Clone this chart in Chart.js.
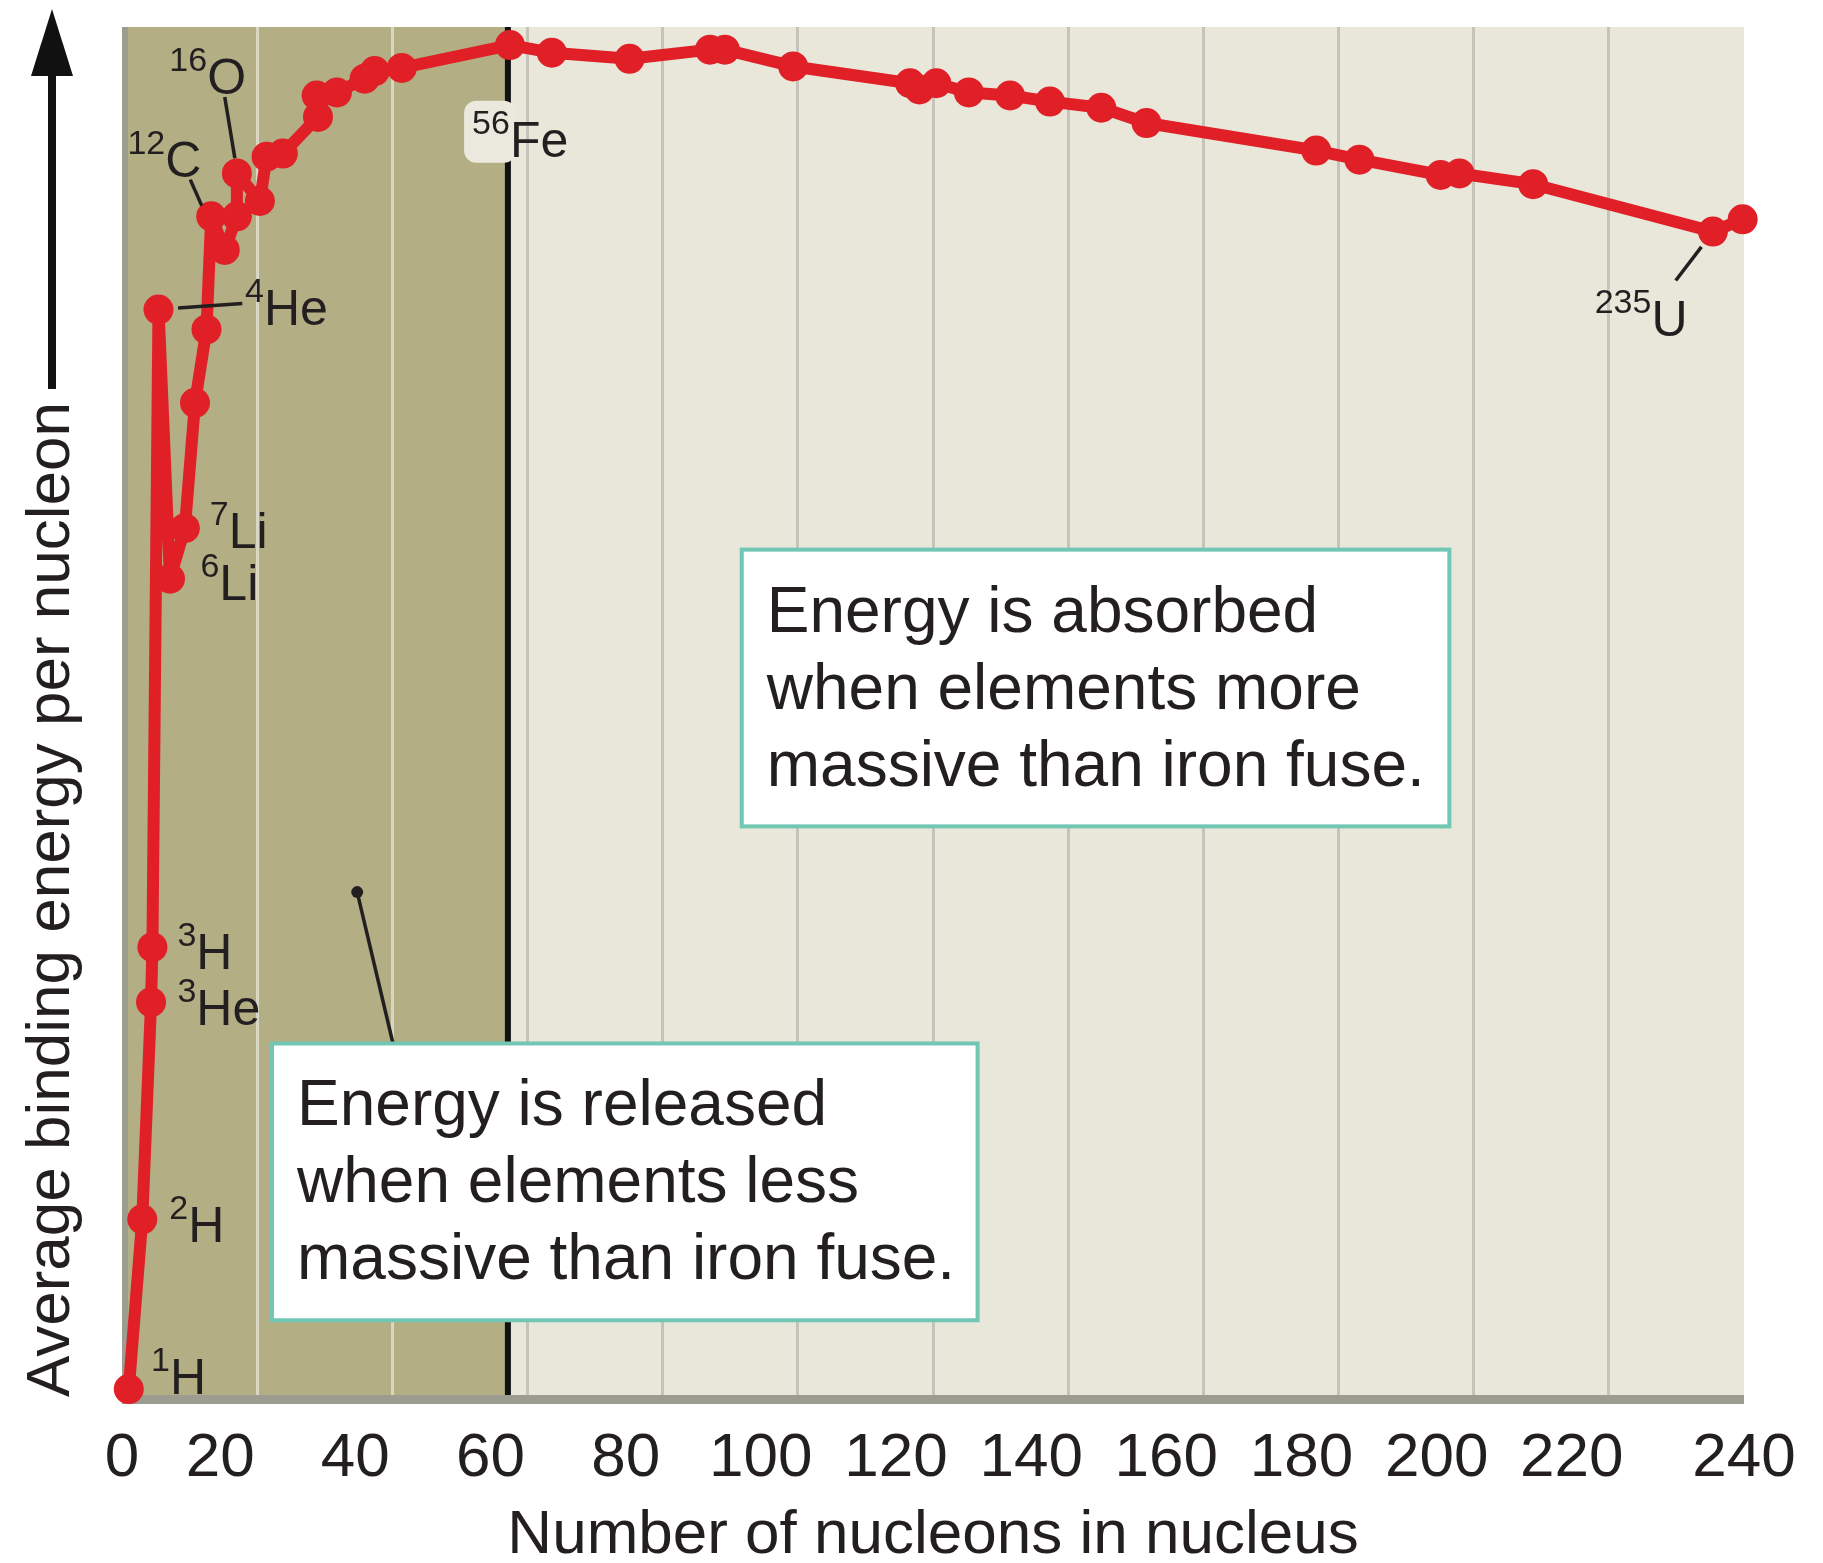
<!DOCTYPE html>
<html>
<head>
<meta charset="utf-8">
<title>Average binding energy per nucleon</title>
<script src="https://cdn.jsdelivr.net/npm/chart.js@4.4.1/dist/chart.umd.min.js"></script>
<style>
  html, body { margin: 0; padding: 0; background: #ffffff; }
  #wrap { width: 1823px; height: 1563px; position: relative; }
</style>
</head>
<body>
<div id="wrap"><canvas id="curve"></canvas></div>
<script>
// Values, in the order the curve joins them
// x = number of nucleons, y = average binding energy per nucleon (MeV)
const nucleons = [
    1.0, 3.0, 4.3, 4.5, 5.4, 7.1, 9.3, 10.8, 12.5, 13.2,
    15.2, 17.0, 17.0, 20.4, 21.4, 23.8, 29.0, 28.8, 31.8, 35.9,
    37.4, 41.4, 57.4, 63.6, 75.1, 87.0, 89.2, 99.3, 116.6, 118.0,
    120.5, 125.3, 131.4, 137.3, 144.9, 151.6, 176.7, 183.1, 195.1, 197.9,
    208.8, 235.4, 239.8
];
const bindingEnergy = [
    0.00, 1.11, 2.53, 2.89, 7.06, 5.30, 5.63, 6.45, 6.93, 7.67,
    7.45, 7.67, 7.95, 7.77, 8.06, 8.08, 8.32, 8.46, 8.48, 8.57,
    8.62, 8.64, 8.79, 8.74, 8.70, 8.76, 8.76, 8.65, 8.54, 8.50,
    8.54, 8.48, 8.46, 8.42, 8.38, 8.28, 8.10, 8.04, 7.94, 7.95,
    7.88, 7.57, 7.65
];
const xTicks = [0, 20, 40, 60, 80, 100, 120, 140, 160, 180, 200, 220, 240];
const ironBoundary = 57.1;   // shaded zone runs up to iron

// isotope names, anchored in data units (left of symbol, baseline)
const isotopeLabels = [
    { mass: '1',   symbol: 'H',  at: [7.1, -0.03] },
    { mass: '2',   symbol: 'H',  at: [9.8, 0.96] },
    { mass: '3',   symbol: 'He', at: [11.0, 2.38] },
    { mass: '3',   symbol: 'H',  at: [11.0, 2.75] },
    { mass: '6',   symbol: 'Li', at: [14.4, 5.16] },
    { mass: '7',   symbol: 'Li', at: [15.8, 5.50] },
    { mass: '4',   symbol: 'He', at: [21.0, 6.96] },
    { mass: '12',  symbol: 'C',  at: [6.4, 7.93] },
    { mass: '16',  symbol: 'O',  at: [12.6, 8.47] },
    { mass: '235', symbol: 'U',  at: [226.3, 6.89] }
];
const leaderLines = [
    [[15.2, 8.45], [16.7, 8.05]],     // 16O
    [[10.1, 7.91], [11.8, 7.74]],     // 12C
    [[8.3, 7.07], [17.8, 7.10]],      // 4He
    [[233.7, 7.47], [229.9, 7.25]]    // 235U
];
const ironLabel = { mass: '56', symbol: 'Fe', at: [57.4, 8.06] };

const noteBoxes = [
    { lines: ['Energy is absorbed', 'when elements more', 'massive than iron fuse.'],
      from: [91.7, 5.49], to: [196.4, 3.68] },
    { lines: ['Energy is released', 'when elements less', 'massive than iron fuse.'],
      from: [22.2, 2.26], to: [126.6, 0.45] }
];
const notePointer = [[34.8, 3.25], [40.1, 2.26]];

// look
const FONT = '"Liberation Sans", Arial, Helvetica, sans-serif';
const INK = '#231f20';
const RED = '#e01f27';
const KHAKI = '#b3ae83';
const PALE = '#e8e7da';
const FRAME = '#9c9d90';
const TEAL = '#72c6b4';
const Y_TITLE = 'Average binding energy per nucleon';
const Y_MIN = -0.052, Y_MAX = 8.908;

Chart.defaults.font.family = FONT;
Chart.defaults.color = INK;

const points = nucleons.map((a, i) => ({ x: a, y: bindingEnergy[i] }));

// the figure's inner tick labels sit left of their grid lines, the end ones do not
const innerTicks = xTicks.slice(1, -1);
const endTicks = [xTicks[0], xTicks[xTicks.length - 1]];

function drawIsotope(ctx, px, py, mass, symbol) {
    ctx.fillStyle = INK;
    ctx.textBaseline = 'alphabetic';
    ctx.font = '34px ' + FONT;
    ctx.textAlign = 'right';
    ctx.fillText(mass, px, py - 23);
    ctx.font = '50px ' + FONT;
    ctx.textAlign = 'left';
    ctx.fillText(symbol, px, py);
}

const figureExtras = {
    id: 'figureExtras',
    beforeDraw(chart) {
        const { ctx, chartArea: a, scales: { x } } = chart;
        const split = x.getPixelForValue(ironBoundary);
        ctx.save();
        ctx.fillStyle = KHAKI;
        ctx.fillRect(a.left, a.top, split - a.left, a.bottom - a.top);
        ctx.fillStyle = PALE;
        ctx.fillRect(split, a.top, a.right - split, a.bottom - a.top);
        ctx.restore();
    },
    beforeDatasetsDraw(chart) {
        const { ctx, chartArea: a, scales: { x } } = chart;
        ctx.save();
        // frame bars on the left and bottom
        ctx.fillStyle = FRAME;
        ctx.fillRect(a.left, a.top, 6, a.bottom - a.top + 7);
        ctx.fillRect(a.left, a.bottom - 2, a.right - a.left, 9);
        // iron line
        ctx.strokeStyle = '#111111';
        ctx.lineWidth = 6;
        const fx = x.getPixelForValue(ironBoundary);
        ctx.beginPath();
        ctx.moveTo(fx, a.top);
        ctx.lineTo(fx, a.bottom - 2);
        ctx.stroke();
        ctx.restore();
    },
    afterDatasetsDraw(chart) {
        const { ctx, scales: { x, y } } = chart;
        const px = v => x.getPixelForValue(v);
        const py = v => y.getPixelForValue(v);
        ctx.save();

        // leader lines
        ctx.strokeStyle = INK;
        ctx.lineWidth = 3.5;
        leaderLines.forEach(([p, q]) => {
            ctx.beginPath();
            ctx.moveTo(px(p[0]), py(p[1]));
            ctx.lineTo(px(q[0]), py(q[1]));
            ctx.stroke();
        });

        isotopeLabels.forEach(l => drawIsotope(ctx, px(l.at[0]), py(l.at[1]), l.mass, l.symbol));

        // 56Fe sits on a pale halo that hides the iron line
        const fx = px(ironLabel.at[0]), fy = py(ironLabel.at[1]);
        ctx.font = '34px ' + FONT;
        const supW = ctx.measureText(ironLabel.mass).width;
        ctx.fillStyle = '#ebe9de';
        ctx.beginPath();
        ctx.roundRect(fx - supW - 8, fy - 56, supW + 14, 62, 12);
        ctx.fill();
        drawIsotope(ctx, fx, fy, ironLabel.mass, ironLabel.symbol);

        // pointer from the lower box into the shaded zone
        const [p0, p1] = notePointer;
        ctx.strokeStyle = INK;
        ctx.lineWidth = 3.5;
        ctx.beginPath();
        ctx.moveTo(px(p0[0]), py(p0[1]));
        ctx.lineTo(px(p1[0]), py(p1[1]));
        ctx.stroke();
        ctx.fillStyle = INK;
        ctx.beginPath();
        ctx.arc(px(p0[0]), py(p0[1]), 6, 0, Math.PI * 2);
        ctx.fill();

        // note boxes
        noteBoxes.forEach(b => {
            const left = px(b.from[0]), top = py(b.from[1]);
            const w = px(b.to[0]) - left, h = py(b.to[1]) - top;
            ctx.fillStyle = '#ffffff';
            ctx.fillRect(left, top, w, h);
            ctx.strokeStyle = TEAL;
            ctx.lineWidth = 4;
            ctx.strokeRect(left, top, w, h);
            ctx.fillStyle = INK;
            ctx.font = '64px ' + FONT;
            ctx.textAlign = 'left';
            ctx.textBaseline = 'alphabetic';
            b.lines.forEach((t, i) => ctx.fillText(t, left + 25, top + 82 + i * 77));
        });
        ctx.restore();
    },
    afterDraw(chart) {
        // upward arrow above the y-axis title
        const { ctx, chartArea: a } = chart;
        ctx.save();
        ctx.font = '62px ' + FONT;
        const titleEnd = a.bottom - ctx.measureText(Y_TITLE).width;
        const cx = a.left - 70;
        const tip = a.top - 18, base = tip + 67;
        ctx.fillStyle = '#111111';
        ctx.fillRect(cx - 4, base - 1, 8, titleEnd - 12 - base);
        ctx.beginPath();
        ctx.moveTo(cx, tip);
        ctx.lineTo(cx + 21, base);
        ctx.lineTo(cx - 21, base);
        ctx.closePath();
        ctx.fill();
        ctx.restore();
    }
};

const tickFont = { size: 62 };

new Chart(document.getElementById('curve'), {
    type: 'line',
    data: {
        datasets: [{
            data: points,
            xAxisID: 'x',
            yAxisID: 'y',
            borderColor: RED,
            backgroundColor: RED,
            borderWidth: 12,
            pointRadius: 15,
            pointHoverRadius: 15,
            pointBorderWidth: 0,
            tension: 0,
            clip: false,
            borderJoinStyle: 'round'
        }]
    },
    options: {
        responsive: true,
        maintainAspectRatio: false,
        animation: false,
        events: [],
        layout: { padding: { top: 27, right: 79, bottom: 0, left: 0 } },
        plugins: { legend: { display: false }, tooltip: { enabled: false } },
        scales: {
            x: {
                type: 'linear',
                position: 'bottom',
                min: 0,
                max: 240,
                afterBuildTicks: s => { s.ticks = innerTicks.map(v => ({ value: v })); },
                afterFit: s => { s.height = 166; },
                grid: {
                    drawTicks: false,
                    lineWidth: 3,
                    color: c => {
                        const v = c.tick ? c.tick.value : 0;
                        return v < ironBoundary ? '#d9d6c4' : '#c6c4ba';
                    }
                },
                border: { display: false },
                ticks: {
                    autoSkip: false,
                    maxRotation: 0,
                    padding: 25,
                    labelOffset: -37,
                    color: INK,
                    font: tickFont
                },
                title: {
                    display: true,
                    text: 'Number of nucleons in nucleus',
                    color: INK,
                    font: { size: 62, lineHeight: 0.8 },
                    padding: { top: 0, bottom: 2 }
                }
            },
            xEnds: {
                type: 'linear',
                axis: 'x',
                position: { y: Y_MIN },
                min: 0,
                max: 240,
                afterBuildTicks: s => { s.ticks = endTicks.map(v => ({ value: v })); },
                grid: { display: false, drawTicks: false },
                border: { display: false },
                ticks: {
                    autoSkip: false,
                    maxRotation: 0,
                    padding: 25,
                    color: INK,
                    font: tickFont
                }
            },
            y: {
                type: 'linear',
                min: Y_MIN,
                max: Y_MAX,
                afterFit: s => { s.width = 122; },
                grid: { display: false },
                border: { display: false },
                ticks: { display: false },
                title: {
                    display: true,
                    text: Y_TITLE,
                    align: 'start',
                    color: INK,
                    font: { size: 62 },
                    padding: { top: 15, bottom: 0 }
                }
            }
        }
    },
    plugins: [figureExtras]
});
</script>
</body>
</html>
